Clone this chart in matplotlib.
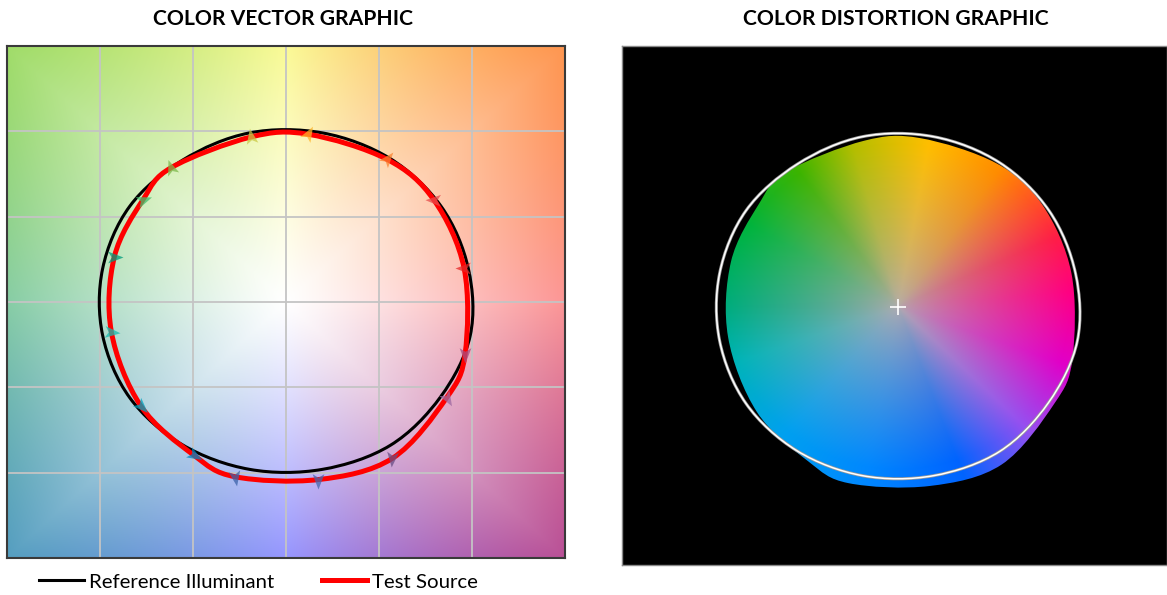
import numpy as np
import matplotlib
matplotlib.use("Agg")
import matplotlib.pyplot as plt
from matplotlib.path import Path
from matplotlib.patches import PathPatch
from matplotlib.markers import MarkerStyle
from matplotlib.transforms import Affine2D
from matplotlib.lines import Line2D

plt.rcParams['font.family'] = ['Lato', 'DejaVu Sans']

# reference illuminant: hue-bin centre angle (deg) and normalized chroma
ref_angle = [11.25, 33.75, 56.25, 78.75, 101.25, 123.75, 146.25, 168.75,
             191.25, 213.75, 236.25, 258.75, 281.25, 303.75, 326.25, 348.75]
ref_r = [1.00, 1.005, 1.01, 1.01, 1.01, 1.00, 1.01, 1.005,
         1.005, 1.01, 1.005, 1.00, 1.00, 1.01, 1.00, 1.01]

# test source: hue angle (deg) and chroma relative to reference
test_angle = [11.6, 37.0, 57.0, 83.0, 101.0, 128.0, 142.0, 164.0,
              190.5, 218.0, 241.0, 255.0, 279.5, 302.0, 327.0, 342.5]
test_r = [0.978, 0.995, 0.997, 0.99, 0.985, 1.00, 0.975, 0.96,
          0.955, 0.99, 1.025, 1.06, 1.055, 1.08, 1.03, 1.01]

# arrow head direction (deg) per bin
arrow_dir = [180, 178, 50, 60, 100, 110, 20, 0,
             355, 315, 330, 280, 270, 265, 300, 270]
bin_colors = ['#e62828', '#e74b4b', '#fb812e', '#ffb529', '#cbca46', '#7eb94c',
              '#41c06d', '#009c7c', '#16bcb0', '#00a4bf', '#0085c3', '#3b62aa',
              '#4568ae', '#6a4e85', '#9d69a1', '#a74f81']

# background tints for the vector graphic (angle deg -> rgb at edge)
bg_angles = [0, 45, 90, 135, 180, 225, 270, 315, 360]
bg_rgb = [(252, 150, 150), (255, 150, 80), (250, 250, 150), (160, 220, 105),
          (135, 205, 165), (85, 158, 192), (150, 150, 255), (185, 80, 150),
          (252, 150, 150)]

# hue wheel for distortion graphic
hue_angles = [-180, -160, -130, -100, -70, -45, -20, 5, 25, 55, 80, 105, 125, 150, 180]
hue_rgb = [(0, 172, 125), (0, 180, 185), (0, 160, 240), (0, 135, 255), (0, 100, 255),
           (150, 80, 240), (225, 0, 200), (255, 0, 130), (255, 30, 70), (255, 140, 0),
           (255, 190, 0), (180, 190, 0), (60, 180, 0), (0, 180, 60), (0, 172, 125)]


def to_xy(angles, radii):
    a = np.radians(angles)
    return np.array(radii) * np.cos(a), np.array(radii) * np.sin(a)


def smooth_path(xs, ys):
    p = np.column_stack([xs, ys])
    n = len(p)
    verts = [p[0]]
    codes = [Path.MOVETO]
    for i in range(n):
        p0, p1, p2, p3 = p[i - 1], p[i], p[(i + 1) % n], p[(i + 2) % n]
        verts += [p1 + (p2 - p0) / 6, p2 - (p3 - p1) / 6, p2]
        codes += [Path.CURVE4] * 3
    verts.append(p[0])
    codes.append(Path.CLOSEPOLY)
    return Path(np.array(verts), codes)


def angle_blend(ang, angs, cols):
    cols = np.array(cols, float) / 255
    return np.stack([np.interp(ang, angs, cols[:, k]) for k in range(3)], axis=-1)


ref_x, ref_y = to_xy(ref_angle, ref_r)
test_x, test_y = to_xy(test_angle, test_r)

fig = plt.figure(figsize=(11.67, 5.95), dpi=100)

# ---- left: color vector graphic ----
ax = fig.add_axes([0.006, 0.0622, 0.4781, 0.8605])
g = np.linspace(-1.5, 1.5, 400)
X, Y = np.meshgrid(g, g[::-1])
ang = np.degrees(np.arctan2(Y, X)) % 360
s = (np.maximum(np.abs(X), np.abs(Y)) / 1.5) ** 1.15
edge = angle_blend(ang, bg_angles, bg_rgb)
bg = 1 - s[..., None] * (1 - edge)
ax.imshow(bg, extent=[-1.5, 1.5, -1.5, 1.5], aspect='auto', interpolation='bilinear', zorder=0)

for v in [-1, -0.5, 0, 0.5, 1]:
    ax.axvline(v, color='#c4c4c4', lw=1.3, zorder=1)
    ax.axhline(v, color='#c4c4c4', lw=1.3, zorder=1)

ax.add_patch(PathPatch(smooth_path(ref_x, ref_y), fill=False, ec='black', lw=2.2, zorder=2))
ax.add_patch(PathPatch(smooth_path(test_x, test_y), fill=False, ec='#ff0000', lw=3.6, zorder=3))

head = Path([(1, 0), (-0.7, 0.65), (-0.3, 0), (-0.7, -0.65), (1, 0)],
            [Path.MOVETO, Path.LINETO, Path.LINETO, Path.LINETO, Path.CLOSEPOLY])
for x, y, d, c in zip(test_x, test_y, arrow_dir, bin_colors):
    m = MarkerStyle(head, transform=Affine2D().rotate_deg(d))
    ax.plot(x, y, marker=m, ms=13, color=c, alpha=0.75, mec='none', zorder=4)

ax.set_xlim(-1.5, 1.5)
ax.set_ylim(-1.5, 1.5)
ax.set_xticks([])
ax.set_yticks([])
for sp in ax.spines.values():
    sp.set_color('#3a3a3a')
    sp.set_linewidth(1.5)

# ---- right: color distortion graphic ----
ax2 = fig.add_axes([0.533, 0.0504, 0.467, 0.872])
ax2.set_facecolor('black')
g2 = np.linspace(-1.2, 1.2, 500)
X2, Y2 = np.meshgrid(g2, g2[::-1])
ang2 = np.degrees(np.arctan2(Y2, X2))
r2 = np.hypot(X2, Y2)
s2 = np.clip(r2 / 0.95, 0, 1) ** 0.75
hue = angle_blend(ang2, hue_angles, hue_rgb)
gray = np.array([0.70, 0.67, 0.68])
wheel = gray * (1 - s2[..., None]) + hue * s2[..., None]
im = ax2.imshow(wheel, extent=[-1.2, 1.2, -1.2, 1.2], aspect='auto', interpolation='bilinear', zorder=1)
im.set_clip_path(PathPatch(smooth_path(test_x, test_y), transform=ax2.transData))

ax2.add_patch(PathPatch(smooth_path(ref_x, ref_y), fill=False, ec='#9a9a9a', lw=2.2, zorder=2))
ax2.add_patch(PathPatch(smooth_path(ref_x, ref_y), fill=False, ec='white', lw=1.1, zorder=3))
ax2.plot(0, 0, marker='+', ms=12, mew=1.2, color='white', zorder=4)

ax2.set_xlim(-1.525, 1.486)
ax2.set_ylim(-1.50, 1.517)
ax2.set_xticks([])
ax2.set_yticks([])
for sp in ax2.spines.values():
    sp.set_color('#8a8a8a')
    sp.set_linewidth(1.0)

fig.text(0.2425, 0.968, 'COLOR VECTOR GRAPHIC', ha='center', va='center',
         fontsize=15.2, fontweight='bold')
fig.text(0.768, 0.968, 'COLOR DISTORTION GRAPHIC', ha='center', va='center',
         fontsize=15.2, fontweight='bold')

handles = [Line2D([], [], color='black', lw=2.2), Line2D([], [], color='#ff0000', lw=3.6)]
fig.legend(handles, ['Reference Illuminant', 'Test Source'], loc='center',
           bbox_to_anchor=(0.2215, 0.022), ncol=2, frameon=False, fontsize=14.7,
           handlelength=2.2, handletextpad=0.25, columnspacing=2.35, borderpad=0)

fig.savefig('out.png', dpi=100)
